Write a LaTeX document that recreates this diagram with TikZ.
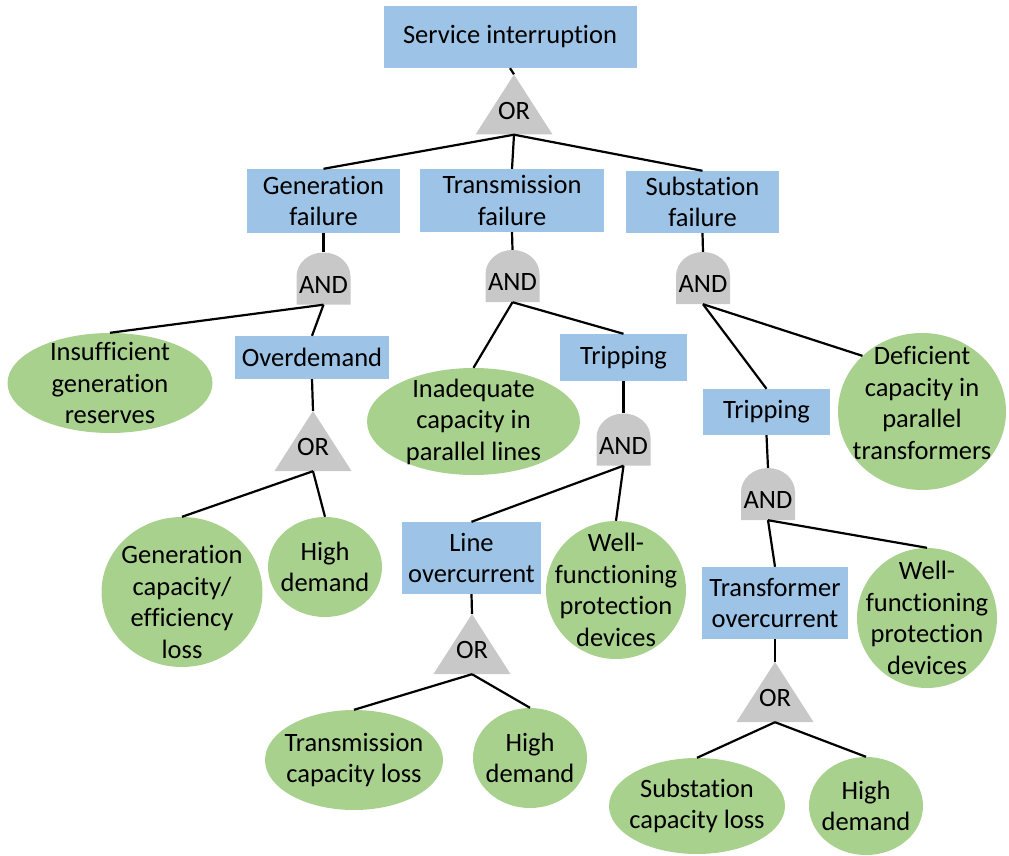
\documentclass[tikz,border=0pt]{standalone}
\usepackage{fontspec}
\setmainfont{Carlito}[Ligatures=NoCommon]
\usetikzlibrary{shapes.geometric}

\definecolor{eventblue}{HTML}{9DC3E6}
\definecolor{basicgreen}{HTML}{A9D18E}
\definecolor{gategray}{HTML}{C8C8C8}

\begin{document}
\begin{tikzpicture}[x=1pt, y=-1pt,
  font=\fontsize{26.5}{31.5}\selectfont,
  event/.style={rectangle, fill=eventblue, align=center, inner sep=2pt},
  basic/.style={ellipse, fill=basicgreen, align=center, inner sep=-20pt},
  gate/.style={rectangle, inner sep=0pt, text height=29.7pt, text depth=0pt},
  andgate/.style={gate, minimum width=54pt, minimum height=52pt,
    path picture={\fill[gategray] (path picture bounding box.south west)
      -- ([yshift=28pt]path picture bounding box.south west)
      arc[start angle=180, end angle=0, x radius=27pt, y radius=24pt]
      -- (path picture bounding box.south east) -- cycle;}},
  orgate/.style={gate, minimum width=77pt, minimum height=60pt,
    path picture={\fill[gategray] (path picture bounding box.south west)
      -- (path picture bounding box.north)
      -- (path picture bounding box.south east) -- cycle;}},
  wire/.style={line width=2.2pt, black}]

  \useasboundingbox (0,0) rectangle (1009,856);

  % ===== Top event =====
  \node[event, minimum width=253pt, minimum height=62pt] (top) at (510,37) {Service interruption};
  \node[orgate] (orTop) at (514,104.5) {OR};

  % ===== Second level =====
  \node[event, minimum width=153pt, minimum height=64pt] (genFail) at (323.5,201) {Generation\\failure};
  \node[event, minimum width=184pt, minimum height=63pt] (transFail) at (512,200.5) {Transmission\\failure};
  \node[event, minimum width=153pt, minimum height=62pt] (subFail) at (702.5,202) {Substation\\failure};

  \node[andgate] (andGen) at (323.5,278.5) {AND};
  \node[andgate] (andTrans) at (512.5,276) {AND};
  \node[andgate] (andSub) at (703,278) {AND};

  % ===== Generation branch =====
  \node[basic, minimum width=205pt, minimum height=100pt] (insuff) at (110,383) {Insufficient\\generation\\reserves};
  \node[event, minimum width=154pt, minimum height=43pt] (overDem) at (312,357.5) {Overdemand};
  \node[orgate] (orOver) at (313,441) {OR};
  % strut on the first line pushes the text a little lower
  \node[basic, minimum width=161pt, minimum height=150pt] (genLoss) at (182,592) {\rule{0pt}{38pt}Generation\\capacity/\\efficiency\\loss};
  \node[basic, minimum width=114pt, minimum height=100pt] (hdGen) at (325,567) {High\\demand};

  % ===== Transmission branch =====
  \node[basic, minimum width=213pt, minimum height=107pt] (inadeq) at (473.5,421.5) {Inadequate\\capacity in\\parallel lines};
  \node[event, minimum width=127pt, minimum height=47pt] (tripT) at (623.5,357.5) {Tripping};
  \node[andgate] (andTripT) at (623.5,439.5) {AND};
  \node[event, minimum width=139pt, minimum height=72pt] (lineOC) at (471.5,558) {Line\\overcurrent};
  \node[basic, minimum width=140pt, minimum height=138pt] (wellT) at (616,590) {Well-\\functioning\\protection\\devices};
  \node[orgate] (orLine) at (472,644) {OR};
  \node[basic, minimum width=178pt, minimum height=100pt] (transLoss) at (354,760) {Transmission\\capacity loss};
  \node[basic, minimum width=114pt, minimum height=100pt] (hdLine) at (530,758) {High\\demand};

  % ===== Substation branch =====
  % deep strut on the last line lifts the text
  \node[basic, minimum width=168pt, minimum height=157pt] (deficient) at (922,411.5) {Deficient\\capacity in\\parallel\\transformers\rule[-17pt]{0pt}{0pt}};
  \node[event, minimum width=127pt, minimum height=46pt] (tripS) at (766.5,412) {Tripping};
  \node[andgate] (andTripS) at (768,494) {AND};
  \node[event, minimum width=146pt, minimum height=72pt] (trafoOC) at (775,603) {Transformer\\overcurrent};
  \node[basic, minimum width=140pt, minimum height=140pt] (wellS) at (927,618) {Well-\\functioning\\protection\\devices};
  \node[orgate] (orTrafo) at (775,692) {OR};
  \node[basic, minimum width=176pt, minimum height=96pt] (subLoss) at (697,806) {Substation\\capacity loss};
  \node[basic, minimum width=114pt, minimum height=98pt] (hdTrafo) at (866,806) {High\\demand};

  % ===== Connectors =====
  \foreach \a/\b in {top/orTop, orTop/genFail, orTop/transFail, orTop/subFail,
      genFail/andGen, transFail/andTrans, subFail/andSub,
      andGen/insuff, andGen/overDem, overDem/orOver, orOver/genLoss, orOver/hdGen,
      andTrans/inadeq, andTrans/tripT, tripT/andTripT, andTripT/lineOC, andTripT/wellT,
      lineOC/orLine, orLine/transLoss, orLine/hdLine,
      andSub/tripS, tripS/andTripS, andTripS/trafoOC, andTripS/wellS,
      trafoOC/orTrafo, orTrafo/subLoss, orTrafo/hdTrafo}
    \draw[wire] (\a.south) -- (\b.north);
  \draw[wire] (andSub.south) -- (deficient.north west);
\end{tikzpicture}
\end{document}
